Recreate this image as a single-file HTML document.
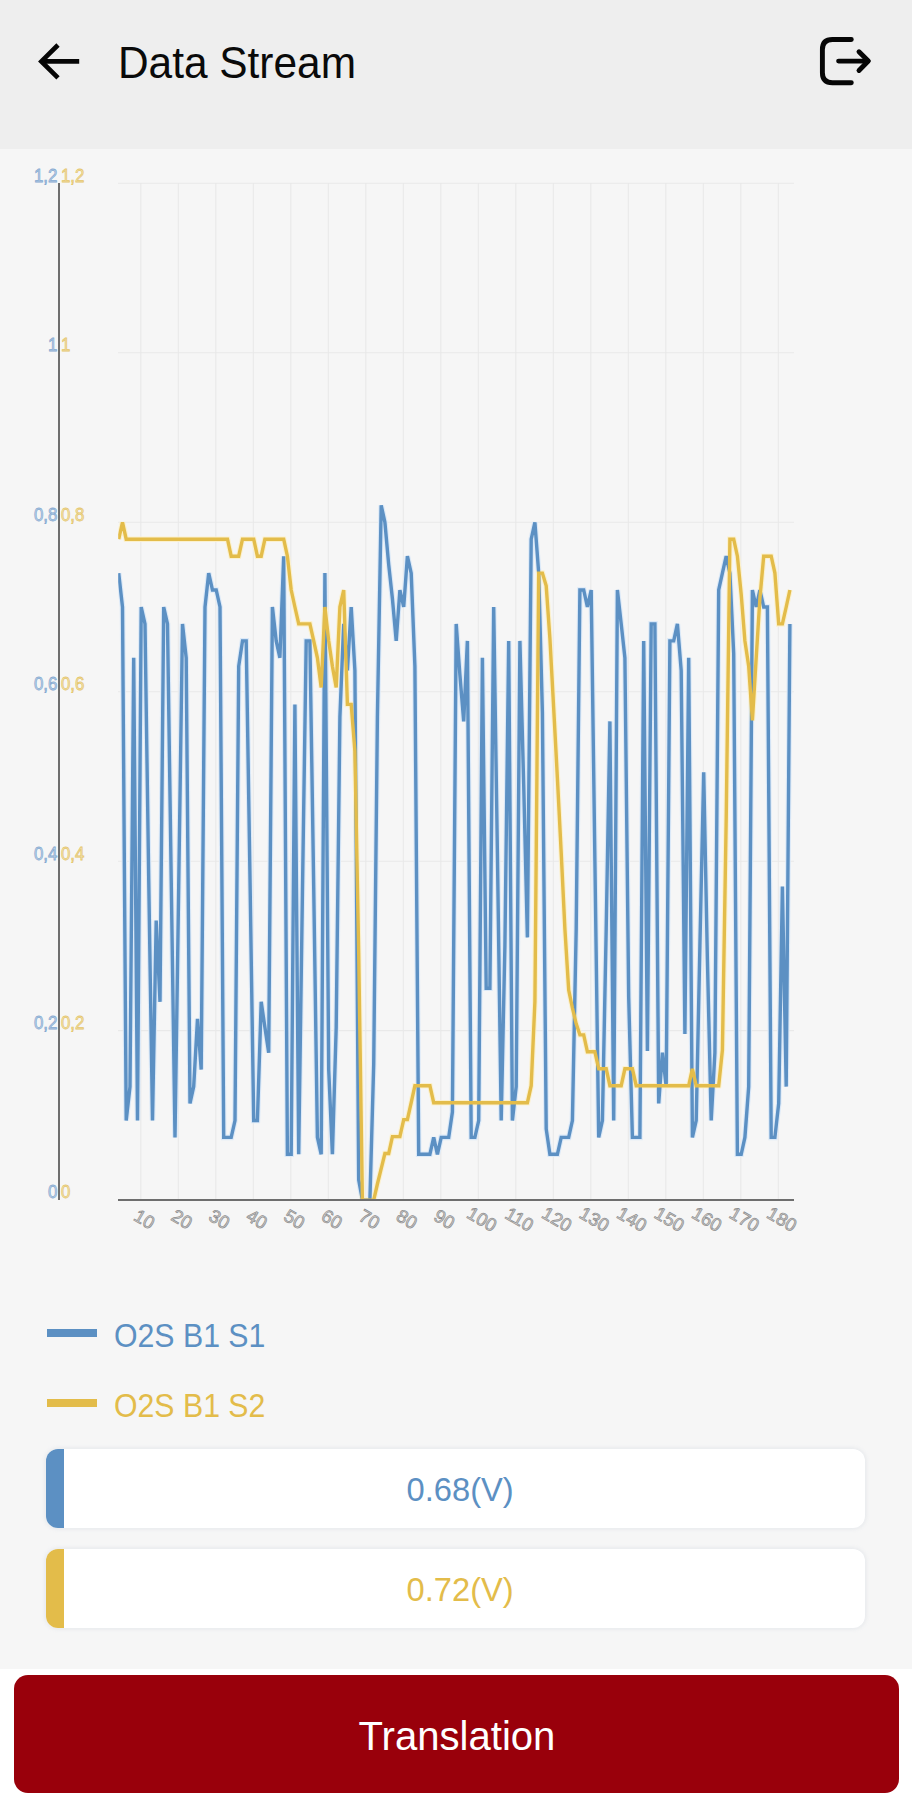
<!DOCTYPE html>
<html><head><meta charset="utf-8"><title>Data Stream</title>
<style>
html,body{margin:0;padding:0;}
body{width:912px;height:1800px;background:#f6f6f6;position:relative;overflow:hidden;font-family:"Liberation Sans",sans-serif;}
.hdr{position:absolute;left:0;top:0;width:912px;height:149.3px;background:#eeeeee;}
.title{position:absolute;left:117.6px;top:35.6px;font-size:45px;line-height:54px;color:#0a0a0a;white-space:nowrap;transform-origin:0 50%;transform:scaleX(0.942);}
.leg{position:absolute;left:114px;font-size:32.5px;line-height:40px;white-space:nowrap;transform-origin:0 50%;transform:scaleX(0.931);}
.bar{position:absolute;left:46.5px;width:50.5px;height:8px;}
.box{position:absolute;left:46.4px;width:818.6px;height:79.2px;background:#fff;border-radius:12px;overflow:hidden;box-shadow:0 0 5px rgba(170,182,200,0.32);}
.box i{position:absolute;left:0;top:0;width:18px;height:100%;display:block;}
.box span{position:absolute;left:0;top:0;width:100%;text-align:center;font-size:32.5px;line-height:82px;padding-left:9.6px;box-sizing:border-box;transform:scaleX(1.005);}
.foot{position:absolute;left:0;top:1668.6px;width:912px;height:132px;background:#ffffff;}
.btn{position:absolute;left:13.5px;top:1675px;width:885px;height:117.6px;background:#99000b;border-radius:14px;color:#fff;font-size:40.1px;line-height:122.4px;text-align:center;padding-left:2px;box-sizing:border-box;}
svg{position:absolute;left:0;top:0;}
</style></head>
<body>
<div class="hdr"></div>
<div class="title" id="title">Data Stream</div>
<svg width="912" height="1800" viewBox="0 0 912 1800">
<!-- back arrow -->
<g fill="none" stroke="#060606" stroke-width="4.7" stroke-linecap="butt" stroke-linejoin="miter">
<path d="M79.2 61.4 H42"/><path d="M58 45 L41.4 61.4 L58 77.8"/>
</g>
<!-- exit icon -->
<g fill="none" stroke="#060606" stroke-width="4.9" stroke-linecap="round" stroke-linejoin="round">
<path d="M851.3 39.5 H832.4 Q822.4 39.5 822.4 49.5 V72.8 Q822.4 82.8 832.4 82.8 H851.3"/>
<path d="M838.6 61.1 H868"/><path d="M859 51.8 L868.3 61.1 L859 70.4"/>
</g>
<g stroke="#e9e9e9" stroke-width="1.1" fill="none">
<line x1="118" y1="1030.6" x2="794" y2="1030.6"/>
<line x1="118" y1="861.2" x2="794" y2="861.2"/>
<line x1="118" y1="691.7" x2="794" y2="691.7"/>
<line x1="118" y1="522.3" x2="794" y2="522.3"/>
<line x1="118" y1="352.8" x2="794" y2="352.8"/>
<line x1="118" y1="183.3" x2="794" y2="183.3"/>
<line x1="140.8" y1="183" x2="140.8" y2="1199"/>
<line x1="178.3" y1="183" x2="178.3" y2="1199"/>
<line x1="215.8" y1="183" x2="215.8" y2="1199"/>
<line x1="253.3" y1="183" x2="253.3" y2="1199"/>
<line x1="290.8" y1="183" x2="290.8" y2="1199"/>
<line x1="328.3" y1="183" x2="328.3" y2="1199"/>
<line x1="365.8" y1="183" x2="365.8" y2="1199"/>
<line x1="403.3" y1="183" x2="403.3" y2="1199"/>
<line x1="440.8" y1="183" x2="440.8" y2="1199"/>
<line x1="478.3" y1="183" x2="478.3" y2="1199"/>
<line x1="515.8" y1="183" x2="515.8" y2="1199"/>
<line x1="553.3" y1="183" x2="553.3" y2="1199"/>
<line x1="590.8" y1="183" x2="590.8" y2="1199"/>
<line x1="628.3" y1="183" x2="628.3" y2="1199"/>
<line x1="665.8" y1="183" x2="665.8" y2="1199"/>
<line x1="703.3" y1="183" x2="703.3" y2="1199"/>
<line x1="740.8" y1="183" x2="740.8" y2="1199"/>
<line x1="778.3" y1="183" x2="778.3" y2="1199"/>
</g>
<line x1="59" y1="183" x2="59" y2="1200" stroke="#6e6e6e" stroke-width="2"/>
<defs><clipPath id="cp"><rect x="118.2" y="170" width="680" height="1031"/></clipPath></defs>
<g font-family="Liberation Sans, sans-serif" font-size="19">
<text transform="translate(57.4,1198.4) scale(0.89,1)" text-anchor="end" fill="#c0d4e8" stroke="#84a9d1" stroke-width="0.75">0</text>
<text transform="translate(60.9,1198.4) scale(0.89,1)" text-anchor="start" fill="#f2e2b2" stroke="#e5c66c" stroke-width="0.75">0</text>
<text transform="translate(57.4,1028.9) scale(0.89,1)" text-anchor="end" fill="#c0d4e8" stroke="#84a9d1" stroke-width="0.75">0,2</text>
<text transform="translate(60.9,1028.9) scale(0.89,1)" text-anchor="start" fill="#f2e2b2" stroke="#e5c66c" stroke-width="0.75">0,2</text>
<text transform="translate(57.4,859.5) scale(0.89,1)" text-anchor="end" fill="#c0d4e8" stroke="#84a9d1" stroke-width="0.75">0,4</text>
<text transform="translate(60.9,859.5) scale(0.89,1)" text-anchor="start" fill="#f2e2b2" stroke="#e5c66c" stroke-width="0.75">0,4</text>
<text transform="translate(57.4,690.0) scale(0.89,1)" text-anchor="end" fill="#c0d4e8" stroke="#84a9d1" stroke-width="0.75">0,6</text>
<text transform="translate(60.9,690.0) scale(0.89,1)" text-anchor="start" fill="#f2e2b2" stroke="#e5c66c" stroke-width="0.75">0,6</text>
<text transform="translate(57.4,520.6) scale(0.89,1)" text-anchor="end" fill="#c0d4e8" stroke="#84a9d1" stroke-width="0.75">0,8</text>
<text transform="translate(60.9,520.6) scale(0.89,1)" text-anchor="start" fill="#f2e2b2" stroke="#e5c66c" stroke-width="0.75">0,8</text>
<text transform="translate(57.4,351.1) scale(0.89,1)" text-anchor="end" fill="#c0d4e8" stroke="#84a9d1" stroke-width="0.75">1</text>
<text transform="translate(60.9,351.1) scale(0.89,1)" text-anchor="start" fill="#f2e2b2" stroke="#e5c66c" stroke-width="0.75">1</text>
<text transform="translate(57.4,181.6) scale(0.89,1)" text-anchor="end" fill="#c0d4e8" stroke="#84a9d1" stroke-width="0.75">1,2</text>
<text transform="translate(60.9,181.6) scale(0.89,1)" text-anchor="start" fill="#f2e2b2" stroke="#e5c66c" stroke-width="0.75">1,2</text>
</g>
<g font-family="Liberation Sans, sans-serif" font-size="18.3" fill="#d0d0d0" stroke="#8c8c8c" stroke-width="0.7">
<text transform="translate(144.3,1219.5) rotate(30)" x="0" y="6" text-anchor="middle">10</text>
<text transform="translate(181.8,1219.5) rotate(30)" x="0" y="6" text-anchor="middle">20</text>
<text transform="translate(219.3,1219.5) rotate(30)" x="0" y="6" text-anchor="middle">30</text>
<text transform="translate(256.8,1219.5) rotate(30)" x="0" y="6" text-anchor="middle">40</text>
<text transform="translate(294.3,1219.5) rotate(30)" x="0" y="6" text-anchor="middle">50</text>
<text transform="translate(331.8,1219.5) rotate(30)" x="0" y="6" text-anchor="middle">60</text>
<text transform="translate(369.3,1219.5) rotate(30)" x="0" y="6" text-anchor="middle">70</text>
<text transform="translate(406.8,1219.5) rotate(30)" x="0" y="6" text-anchor="middle">80</text>
<text transform="translate(444.3,1219.5) rotate(30)" x="0" y="6" text-anchor="middle">90</text>
<text transform="translate(481.8,1219.5) rotate(30)" x="0" y="6" text-anchor="middle">100</text>
<text transform="translate(519.3,1219.5) rotate(30)" x="0" y="6" text-anchor="middle">110</text>
<text transform="translate(556.8,1219.5) rotate(30)" x="0" y="6" text-anchor="middle">120</text>
<text transform="translate(594.3,1219.5) rotate(30)" x="0" y="6" text-anchor="middle">130</text>
<text transform="translate(631.8,1219.5) rotate(30)" x="0" y="6" text-anchor="middle">140</text>
<text transform="translate(669.3,1219.5) rotate(30)" x="0" y="6" text-anchor="middle">150</text>
<text transform="translate(706.8,1219.5) rotate(30)" x="0" y="6" text-anchor="middle">160</text>
<text transform="translate(744.3,1219.5) rotate(30)" x="0" y="6" text-anchor="middle">170</text>
<text transform="translate(781.8,1219.5) rotate(30)" x="0" y="6" text-anchor="middle">180</text>
</g>
<g fill="none" stroke-linejoin="miter" stroke-miterlimit="3" clip-path="url(#cp)">
<polyline stroke="#dbe9f8" stroke-width="5.6" points="118.7,573.1 122.5,607.0 126.2,1120.5 130.0,1086.6 133.7,657.8 137.5,1120.5 141.2,607.0 145.0,623.9 148.7,878.1 152.5,1120.5 156.2,920.5 160.0,1001.8 163.7,607.0 167.5,623.9 171.2,878.1 175.0,1137.4 178.7,886.6 182.5,623.9 186.2,657.8 190.0,1103.5 193.7,1086.6 197.5,1018.8 201.2,1069.6 205.0,607.0 208.7,573.1 212.5,590.0 216.2,590.0 220.0,607.0 223.7,1137.4 227.5,1137.4 231.2,1137.4 235.0,1120.5 238.7,666.3 242.5,640.9 246.2,640.9 250.0,878.1 253.7,1120.5 257.4,1120.5 261.2,1001.8 264.9,1027.3 268.7,1052.7 272.4,607.0 276.2,640.9 279.9,657.8 283.7,556.2 287.4,1154.3 291.2,1154.3 294.9,704.4 298.7,1154.3 302.4,895.1 306.2,640.9 309.9,640.9 313.7,886.6 317.4,1137.4 321.2,1154.3 324.9,573.1 328.7,1069.6 332.4,1154.3 336.2,1027.3 339.9,717.1 343.7,623.9 347.4,670.5 351.2,607.0 354.9,670.5 358.7,1179.8 362.4,1200.1 366.2,1200.1 369.9,1200.1 373.7,1064.5 377.4,717.1 381.2,505.3 384.9,522.3 388.7,564.6 392.4,598.5 396.2,640.9 399.9,590.0 403.7,607.0 407.4,556.2 411.2,573.1 414.9,666.3 418.7,1154.3 422.4,1154.3 426.2,1154.3 429.9,1154.3 433.7,1137.4 437.4,1154.3 441.2,1137.4 444.9,1137.4 448.7,1137.4 452.4,1112.0 456.2,623.9 459.9,674.8 463.7,721.4 467.4,640.9 471.2,1137.4 474.9,1137.4 478.7,1120.5 482.4,657.8 486.2,988.3 489.9,988.3 493.7,607.0 497.4,852.7 501.2,1120.5 504.9,945.9 508.7,640.9 512.4,1120.5 516.2,1086.6 519.9,640.9 523.7,784.9 527.4,937.4 531.2,539.2 534.9,522.3 538.7,573.1 542.4,712.9 546.2,1128.9 549.9,1154.3 553.7,1154.3 557.4,1154.3 561.2,1137.4 564.9,1137.4 568.7,1137.4 572.4,1120.5 576.2,929.0 579.9,590.0 583.7,590.0 587.4,607.0 591.2,590.0 594.9,861.2 598.7,1137.4 602.4,1120.5 606.2,929.0 609.9,721.4 613.7,1120.5 617.4,590.0 621.2,623.9 624.9,657.8 628.7,997.6 632.4,1137.4 636.2,1137.4 639.9,1137.4 643.7,640.9 647.4,1051.0 651.2,623.9 654.9,623.9 658.7,1103.5 662.4,1052.7 666.2,1086.6 669.9,640.9 673.7,640.9 677.4,623.9 681.2,670.5 684.9,1034.0 688.7,657.8 692.4,1137.4 696.2,1120.5 699.9,945.9 703.7,772.2 707.4,959.5 711.2,1120.5 714.9,1052.7 718.7,590.0 722.4,573.1 726.2,556.2 729.9,573.1 733.7,653.6 737.4,1154.3 741.2,1154.3 744.9,1137.4 748.7,1086.6 752.4,590.0 756.2,607.0 759.9,590.0 763.7,607.0 767.4,607.0 771.2,1137.4 774.9,1137.4 778.7,1103.5 782.4,886.6 786.2,1086.6 789.9,623.9"/>
<polyline stroke="#fbf1cf" stroke-width="5.6" points="118.7,539.2 122.5,522.3 126.2,539.2 130.0,539.2 133.7,539.2 137.5,539.2 141.2,539.2 145.0,539.2 148.7,539.2 152.5,539.2 156.2,539.2 160.0,539.2 163.7,539.2 167.5,539.2 171.2,539.2 175.0,539.2 178.7,539.2 182.5,539.2 186.2,539.2 190.0,539.2 193.7,539.2 197.5,539.2 201.2,539.2 205.0,539.2 208.7,539.2 212.5,539.2 216.2,539.2 220.0,539.2 223.7,539.2 227.5,539.2 231.2,556.2 235.0,556.2 238.7,556.2 242.5,539.2 246.2,539.2 250.0,539.2 253.7,539.2 257.4,556.2 261.2,556.2 264.9,539.2 268.7,539.2 272.4,539.2 276.2,539.2 279.9,539.2 283.7,539.2 287.4,556.2 291.2,590.0 294.9,607.0 298.7,623.9 302.4,623.9 306.2,623.9 309.9,623.9 313.7,640.9 317.4,657.8 321.2,687.5 324.9,607.0 328.7,640.9 332.4,666.3 336.2,687.5 339.9,607.0 343.7,590.0 347.4,704.4 351.2,704.4 354.9,751.0 358.7,953.5 362.4,1200.1 366.2,1200.1 369.9,1200.1 373.7,1200.1 377.4,1184.0 381.2,1168.7 384.9,1153.5 388.7,1153.5 392.4,1136.6 396.2,1136.6 399.9,1136.6 403.7,1119.6 407.4,1119.6 411.2,1102.7 414.9,1085.7 418.7,1085.7 422.4,1085.7 426.2,1085.7 429.9,1085.7 433.7,1102.7 437.4,1102.7 441.2,1102.7 444.9,1102.7 448.7,1102.7 452.4,1102.7 456.2,1102.7 459.9,1102.7 463.7,1102.7 467.4,1102.7 471.2,1102.7 474.9,1102.7 478.7,1102.7 482.4,1102.7 486.2,1102.7 489.9,1102.7 493.7,1102.7 497.4,1102.7 501.2,1102.7 504.9,1102.7 508.7,1102.7 512.4,1102.7 516.2,1102.7 519.9,1102.7 523.7,1102.7 527.4,1102.7 531.2,1085.7 534.9,1001.8 538.7,573.1 542.4,573.1 546.2,585.8 549.9,638.3 553.7,708.7 557.4,778.1 561.2,852.7 564.9,929.0 568.7,990.0 572.4,1007.8 576.2,1023.9 579.9,1034.9 583.7,1034.9 587.4,1051.8 591.2,1051.8 594.9,1051.8 598.7,1068.8 602.4,1068.8 606.2,1068.8 609.9,1085.7 613.7,1085.7 617.4,1085.7 621.2,1085.7 624.9,1068.8 628.7,1068.8 632.4,1068.8 636.2,1085.7 639.9,1085.7 643.7,1085.7 647.4,1085.7 651.2,1085.7 654.9,1085.7 658.7,1085.7 662.4,1085.7 666.2,1085.7 669.9,1085.7 673.7,1085.7 677.4,1085.7 681.2,1085.7 684.9,1085.7 688.7,1085.7 692.4,1068.8 696.2,1085.7 699.9,1085.7 703.7,1085.7 707.4,1085.7 711.2,1085.7 714.9,1085.7 718.7,1085.7 722.4,1050.1 726.2,818.8 729.9,539.2 733.7,539.2 737.4,556.2 741.2,594.3 744.9,640.9 748.7,666.3 752.4,720.5 756.2,657.8 759.9,598.5 763.7,556.2 767.4,556.2 771.2,556.2 774.9,573.1 778.7,623.9 782.4,623.9 786.2,607.0 789.9,590.0"/>
<polyline stroke="#5c90c3" stroke-width="3.4" points="118.7,573.1 122.5,607.0 126.2,1120.5 130.0,1086.6 133.7,657.8 137.5,1120.5 141.2,607.0 145.0,623.9 148.7,878.1 152.5,1120.5 156.2,920.5 160.0,1001.8 163.7,607.0 167.5,623.9 171.2,878.1 175.0,1137.4 178.7,886.6 182.5,623.9 186.2,657.8 190.0,1103.5 193.7,1086.6 197.5,1018.8 201.2,1069.6 205.0,607.0 208.7,573.1 212.5,590.0 216.2,590.0 220.0,607.0 223.7,1137.4 227.5,1137.4 231.2,1137.4 235.0,1120.5 238.7,666.3 242.5,640.9 246.2,640.9 250.0,878.1 253.7,1120.5 257.4,1120.5 261.2,1001.8 264.9,1027.3 268.7,1052.7 272.4,607.0 276.2,640.9 279.9,657.8 283.7,556.2 287.4,1154.3 291.2,1154.3 294.9,704.4 298.7,1154.3 302.4,895.1 306.2,640.9 309.9,640.9 313.7,886.6 317.4,1137.4 321.2,1154.3 324.9,573.1 328.7,1069.6 332.4,1154.3 336.2,1027.3 339.9,717.1 343.7,623.9 347.4,670.5 351.2,607.0 354.9,670.5 358.7,1179.8 362.4,1200.1 366.2,1200.1 369.9,1200.1 373.7,1064.5 377.4,717.1 381.2,505.3 384.9,522.3 388.7,564.6 392.4,598.5 396.2,640.9 399.9,590.0 403.7,607.0 407.4,556.2 411.2,573.1 414.9,666.3 418.7,1154.3 422.4,1154.3 426.2,1154.3 429.9,1154.3 433.7,1137.4 437.4,1154.3 441.2,1137.4 444.9,1137.4 448.7,1137.4 452.4,1112.0 456.2,623.9 459.9,674.8 463.7,721.4 467.4,640.9 471.2,1137.4 474.9,1137.4 478.7,1120.5 482.4,657.8 486.2,988.3 489.9,988.3 493.7,607.0 497.4,852.7 501.2,1120.5 504.9,945.9 508.7,640.9 512.4,1120.5 516.2,1086.6 519.9,640.9 523.7,784.9 527.4,937.4 531.2,539.2 534.9,522.3 538.7,573.1 542.4,712.9 546.2,1128.9 549.9,1154.3 553.7,1154.3 557.4,1154.3 561.2,1137.4 564.9,1137.4 568.7,1137.4 572.4,1120.5 576.2,929.0 579.9,590.0 583.7,590.0 587.4,607.0 591.2,590.0 594.9,861.2 598.7,1137.4 602.4,1120.5 606.2,929.0 609.9,721.4 613.7,1120.5 617.4,590.0 621.2,623.9 624.9,657.8 628.7,997.6 632.4,1137.4 636.2,1137.4 639.9,1137.4 643.7,640.9 647.4,1051.0 651.2,623.9 654.9,623.9 658.7,1103.5 662.4,1052.7 666.2,1086.6 669.9,640.9 673.7,640.9 677.4,623.9 681.2,670.5 684.9,1034.0 688.7,657.8 692.4,1137.4 696.2,1120.5 699.9,945.9 703.7,772.2 707.4,959.5 711.2,1120.5 714.9,1052.7 718.7,590.0 722.4,573.1 726.2,556.2 729.9,573.1 733.7,653.6 737.4,1154.3 741.2,1154.3 744.9,1137.4 748.7,1086.6 752.4,590.0 756.2,607.0 759.9,590.0 763.7,607.0 767.4,607.0 771.2,1137.4 774.9,1137.4 778.7,1103.5 782.4,886.6 786.2,1086.6 789.9,623.9"/>
<polyline stroke="#e3bc4a" stroke-width="3.4" points="118.7,539.2 122.5,522.3 126.2,539.2 130.0,539.2 133.7,539.2 137.5,539.2 141.2,539.2 145.0,539.2 148.7,539.2 152.5,539.2 156.2,539.2 160.0,539.2 163.7,539.2 167.5,539.2 171.2,539.2 175.0,539.2 178.7,539.2 182.5,539.2 186.2,539.2 190.0,539.2 193.7,539.2 197.5,539.2 201.2,539.2 205.0,539.2 208.7,539.2 212.5,539.2 216.2,539.2 220.0,539.2 223.7,539.2 227.5,539.2 231.2,556.2 235.0,556.2 238.7,556.2 242.5,539.2 246.2,539.2 250.0,539.2 253.7,539.2 257.4,556.2 261.2,556.2 264.9,539.2 268.7,539.2 272.4,539.2 276.2,539.2 279.9,539.2 283.7,539.2 287.4,556.2 291.2,590.0 294.9,607.0 298.7,623.9 302.4,623.9 306.2,623.9 309.9,623.9 313.7,640.9 317.4,657.8 321.2,687.5 324.9,607.0 328.7,640.9 332.4,666.3 336.2,687.5 339.9,607.0 343.7,590.0 347.4,704.4 351.2,704.4 354.9,751.0 358.7,953.5 362.4,1200.1 366.2,1200.1 369.9,1200.1 373.7,1200.1 377.4,1184.0 381.2,1168.7 384.9,1153.5 388.7,1153.5 392.4,1136.6 396.2,1136.6 399.9,1136.6 403.7,1119.6 407.4,1119.6 411.2,1102.7 414.9,1085.7 418.7,1085.7 422.4,1085.7 426.2,1085.7 429.9,1085.7 433.7,1102.7 437.4,1102.7 441.2,1102.7 444.9,1102.7 448.7,1102.7 452.4,1102.7 456.2,1102.7 459.9,1102.7 463.7,1102.7 467.4,1102.7 471.2,1102.7 474.9,1102.7 478.7,1102.7 482.4,1102.7 486.2,1102.7 489.9,1102.7 493.7,1102.7 497.4,1102.7 501.2,1102.7 504.9,1102.7 508.7,1102.7 512.4,1102.7 516.2,1102.7 519.9,1102.7 523.7,1102.7 527.4,1102.7 531.2,1085.7 534.9,1001.8 538.7,573.1 542.4,573.1 546.2,585.8 549.9,638.3 553.7,708.7 557.4,778.1 561.2,852.7 564.9,929.0 568.7,990.0 572.4,1007.8 576.2,1023.9 579.9,1034.9 583.7,1034.9 587.4,1051.8 591.2,1051.8 594.9,1051.8 598.7,1068.8 602.4,1068.8 606.2,1068.8 609.9,1085.7 613.7,1085.7 617.4,1085.7 621.2,1085.7 624.9,1068.8 628.7,1068.8 632.4,1068.8 636.2,1085.7 639.9,1085.7 643.7,1085.7 647.4,1085.7 651.2,1085.7 654.9,1085.7 658.7,1085.7 662.4,1085.7 666.2,1085.7 669.9,1085.7 673.7,1085.7 677.4,1085.7 681.2,1085.7 684.9,1085.7 688.7,1085.7 692.4,1068.8 696.2,1085.7 699.9,1085.7 703.7,1085.7 707.4,1085.7 711.2,1085.7 714.9,1085.7 718.7,1085.7 722.4,1050.1 726.2,818.8 729.9,539.2 733.7,539.2 737.4,556.2 741.2,594.3 744.9,640.9 748.7,666.3 752.4,720.5 756.2,657.8 759.9,598.5 763.7,556.2 767.4,556.2 771.2,556.2 774.9,573.1 778.7,623.9 782.4,623.9 786.2,607.0 789.9,590.0"/>
</g>
<line x1="118" y1="1200.1" x2="794" y2="1200.1" stroke="#6e6e6e" stroke-width="2"/>
</svg>
<div class="bar" style="top:1328.5px;background:#5c90c3"></div>
<div class="leg" style="top:1316.2px;color:#5c90c3">O2S B1 S1</div>
<div class="bar" style="top:1399.2px;background:#e3bc4a"></div>
<div class="leg" style="top:1386px;color:#e3bc4a">O2S B1 S2</div>
<div class="box" style="top:1449px"><i style="background:#5c90c3"></i><span style="color:#5c90c3">0.68(V)</span></div>
<div class="box" style="top:1549.3px"><i style="background:#e3bc4a"></i><span style="color:#e3bc4a">0.72(V)</span></div>
<div class="foot"></div>
<div class="btn">Translation</div>
</body></html>
